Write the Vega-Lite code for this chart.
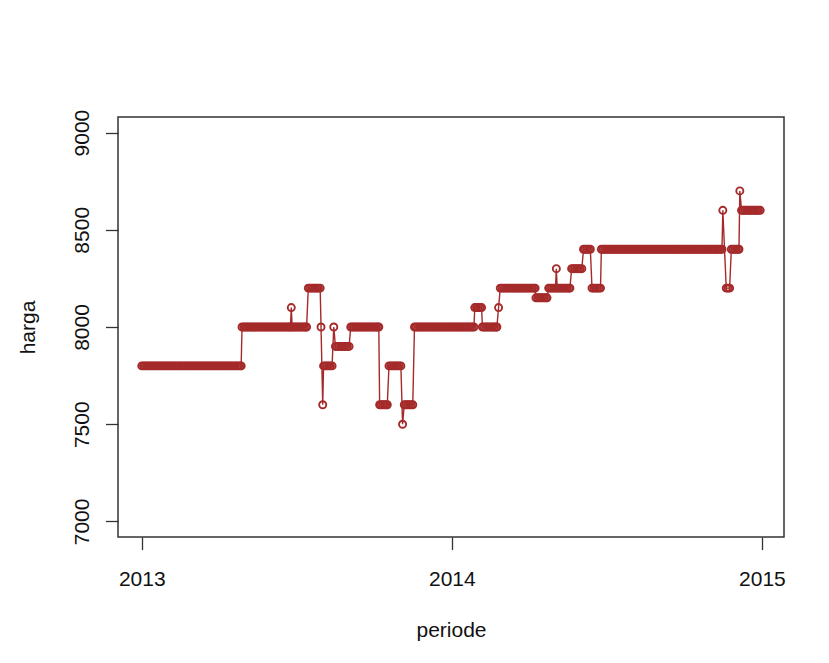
{
"$schema": "https://vega.github.io/schema/vega-lite/v6.json",
"width": 666,
"height": 420,
"autosize": {"type": "none"},
"padding": {"left": 118, "top": 117, "right": 45, "bottom": 126},
"background": "white",
"config": {
  "view": {"stroke": "#333333", "strokeWidth": 1.5},
  "font": "Liberation Sans",
  "axis": {"grid": false, "domain": false, "tickColor": "#333333", "tickWidth": 1.3, "tickSize": 12.5,
    "labelFont": "Liberation Sans", "labelFontSize": 21, "labelColor": "#111111",
    "titleFont": "Liberation Sans", "titleFontSize": 21, "titleFontWeight": "normal", "titleColor": "#111111"}
},
"data": {"values": [
{"t":"2013-01-01","h":7800},{"t":"2013-01-03","h":7800},{"t":"2013-01-05","h":7800},{"t":"2013-01-07","h":7800},{"t":"2013-01-09","h":7800},{"t":"2013-01-11","h":7800},{"t":"2013-01-13","h":7800},{"t":"2013-01-15","h":7800},{"t":"2013-01-17","h":7800},{"t":"2013-01-19","h":7800},{"t":"2013-01-21","h":7800},{"t":"2013-01-23","h":7800},{"t":"2013-01-25","h":7800},{"t":"2013-01-27","h":7800},{"t":"2013-01-29","h":7800},{"t":"2013-01-31","h":7800},
{"t":"2013-02-02","h":7800},{"t":"2013-02-04","h":7800},{"t":"2013-02-06","h":7800},{"t":"2013-02-08","h":7800},{"t":"2013-02-10","h":7800},{"t":"2013-02-12","h":7800},{"t":"2013-02-14","h":7800},{"t":"2013-02-16","h":7800},{"t":"2013-02-18","h":7800},{"t":"2013-02-20","h":7800},{"t":"2013-02-22","h":7800},{"t":"2013-02-24","h":7800},{"t":"2013-02-26","h":7800},{"t":"2013-02-28","h":7800},
{"t":"2013-03-02","h":7800},{"t":"2013-03-04","h":7800},{"t":"2013-03-06","h":7800},{"t":"2013-03-08","h":7800},{"t":"2013-03-10","h":7800},{"t":"2013-03-12","h":7800},{"t":"2013-03-14","h":7800},{"t":"2013-03-16","h":7800},{"t":"2013-03-18","h":7800},{"t":"2013-03-20","h":7800},{"t":"2013-03-22","h":7800},{"t":"2013-03-24","h":7800},{"t":"2013-03-26","h":7800},{"t":"2013-03-28","h":7800},{"t":"2013-03-30","h":7800},
{"t":"2013-04-01","h":7800},{"t":"2013-04-03","h":7800},{"t":"2013-04-05","h":7800},{"t":"2013-04-07","h":7800},{"t":"2013-04-09","h":7800},{"t":"2013-04-11","h":7800},{"t":"2013-04-13","h":7800},{"t":"2013-04-15","h":7800},{"t":"2013-04-17","h":7800},{"t":"2013-04-19","h":7800},{"t":"2013-04-21","h":7800},{"t":"2013-04-23","h":7800},{"t":"2013-04-25","h":7800},{"t":"2013-04-27","h":7800},{"t":"2013-04-28","h":7800},
{"t":"2013-04-29","h":8000},
{"t":"2013-05-01","h":8000},{"t":"2013-05-03","h":8000},{"t":"2013-05-05","h":8000},{"t":"2013-05-07","h":8000},{"t":"2013-05-09","h":8000},{"t":"2013-05-11","h":8000},{"t":"2013-05-13","h":8000},{"t":"2013-05-15","h":8000},{"t":"2013-05-17","h":8000},{"t":"2013-05-19","h":8000},{"t":"2013-05-21","h":8000},{"t":"2013-05-23","h":8000},{"t":"2013-05-25","h":8000},{"t":"2013-05-27","h":8000},{"t":"2013-05-29","h":8000},{"t":"2013-05-31","h":8000},
{"t":"2013-06-02","h":8000},{"t":"2013-06-04","h":8000},{"t":"2013-06-06","h":8000},{"t":"2013-06-08","h":8000},{"t":"2013-06-10","h":8000},{"t":"2013-06-12","h":8000},{"t":"2013-06-14","h":8000},{"t":"2013-06-16","h":8000},{"t":"2013-06-18","h":8000},{"t":"2013-06-20","h":8000},{"t":"2013-06-22","h":8000},{"t":"2013-06-24","h":8000},{"t":"2013-06-25","h":8000},
{"t":"2013-06-26","h":8100},
{"t":"2013-06-27","h":8000},{"t":"2013-06-29","h":8000},{"t":"2013-07-01","h":8000},{"t":"2013-07-03","h":8000},{"t":"2013-07-05","h":8000},{"t":"2013-07-07","h":8000},{"t":"2013-07-09","h":8000},{"t":"2013-07-11","h":8000},{"t":"2013-07-13","h":8000},{"t":"2013-07-14","h":8000},
{"t":"2013-07-16","h":8200},{"t":"2013-07-18","h":8200},{"t":"2013-07-20","h":8200},{"t":"2013-07-22","h":8200},{"t":"2013-07-24","h":8200},{"t":"2013-07-26","h":8200},{"t":"2013-07-28","h":8200},{"t":"2013-07-30","h":8200},
{"t":"2013-07-31","h":8000},
{"t":"2013-08-02","h":7600},
{"t":"2013-08-03","h":7800},{"t":"2013-08-05","h":7800},{"t":"2013-08-07","h":7800},{"t":"2013-08-09","h":7800},{"t":"2013-08-11","h":7800},{"t":"2013-08-13","h":7800},
{"t":"2013-08-15","h":8000},
{"t":"2013-08-17","h":7900},{"t":"2013-08-19","h":7900},{"t":"2013-08-21","h":7900},{"t":"2013-08-23","h":7900},{"t":"2013-08-25","h":7900},{"t":"2013-08-27","h":7900},{"t":"2013-08-29","h":7900},{"t":"2013-08-31","h":7900},{"t":"2013-09-02","h":7900},
{"t":"2013-09-04","h":8000},{"t":"2013-09-06","h":8000},{"t":"2013-09-08","h":8000},{"t":"2013-09-10","h":8000},{"t":"2013-09-12","h":8000},{"t":"2013-09-14","h":8000},{"t":"2013-09-16","h":8000},{"t":"2013-09-18","h":8000},{"t":"2013-09-20","h":8000},{"t":"2013-09-22","h":8000},{"t":"2013-09-24","h":8000},{"t":"2013-09-26","h":8000},{"t":"2013-09-28","h":8000},{"t":"2013-09-30","h":8000},{"t":"2013-10-02","h":8000},{"t":"2013-10-04","h":8000},{"t":"2013-10-06","h":8000},{"t":"2013-10-07","h":8000},
{"t":"2013-10-08","h":7600},{"t":"2013-10-10","h":7600},{"t":"2013-10-12","h":7600},{"t":"2013-10-14","h":7600},{"t":"2013-10-16","h":7600},{"t":"2013-10-17","h":7600},
{"t":"2013-10-19","h":7800},{"t":"2013-10-21","h":7800},{"t":"2013-10-23","h":7800},{"t":"2013-10-25","h":7800},{"t":"2013-10-27","h":7800},{"t":"2013-10-29","h":7800},{"t":"2013-10-31","h":7800},{"t":"2013-11-02","h":7800},
{"t":"2013-11-04","h":7500},
{"t":"2013-11-06","h":7600},{"t":"2013-11-08","h":7600},{"t":"2013-11-10","h":7600},{"t":"2013-11-12","h":7600},{"t":"2013-11-14","h":7600},{"t":"2013-11-16","h":7600},
{"t":"2013-11-18","h":8000},{"t":"2013-11-20","h":8000},{"t":"2013-11-22","h":8000},{"t":"2013-11-24","h":8000},{"t":"2013-11-26","h":8000},{"t":"2013-11-28","h":8000},{"t":"2013-11-30","h":8000},
{"t":"2013-12-02","h":8000},{"t":"2013-12-04","h":8000},{"t":"2013-12-06","h":8000},{"t":"2013-12-08","h":8000},{"t":"2013-12-10","h":8000},{"t":"2013-12-12","h":8000},{"t":"2013-12-14","h":8000},{"t":"2013-12-16","h":8000},{"t":"2013-12-18","h":8000},{"t":"2013-12-20","h":8000},{"t":"2013-12-22","h":8000},{"t":"2013-12-24","h":8000},{"t":"2013-12-26","h":8000},{"t":"2013-12-28","h":8000},{"t":"2013-12-30","h":8000},
{"t":"2014-01-01","h":8000},{"t":"2014-01-03","h":8000},{"t":"2014-01-05","h":8000},{"t":"2014-01-07","h":8000},{"t":"2014-01-09","h":8000},{"t":"2014-01-11","h":8000},{"t":"2014-01-13","h":8000},{"t":"2014-01-15","h":8000},{"t":"2014-01-17","h":8000},{"t":"2014-01-19","h":8000},{"t":"2014-01-21","h":8000},{"t":"2014-01-23","h":8000},{"t":"2014-01-25","h":8000},{"t":"2014-01-27","h":8000},
{"t":"2014-01-28","h":8100},{"t":"2014-01-30","h":8100},{"t":"2014-02-01","h":8100},{"t":"2014-02-03","h":8100},{"t":"2014-02-05","h":8100},
{"t":"2014-02-06","h":8000},{"t":"2014-02-08","h":8000},{"t":"2014-02-10","h":8000},{"t":"2014-02-12","h":8000},{"t":"2014-02-14","h":8000},{"t":"2014-02-16","h":8000},{"t":"2014-02-18","h":8000},{"t":"2014-02-20","h":8000},{"t":"2014-02-22","h":8000},{"t":"2014-02-23","h":8000},
{"t":"2014-02-25","h":8100},
{"t":"2014-02-27","h":8200},{"t":"2014-03-01","h":8200},{"t":"2014-03-03","h":8200},{"t":"2014-03-05","h":8200},{"t":"2014-03-07","h":8200},{"t":"2014-03-09","h":8200},{"t":"2014-03-11","h":8200},{"t":"2014-03-13","h":8200},{"t":"2014-03-15","h":8200},{"t":"2014-03-17","h":8200},{"t":"2014-03-19","h":8200},{"t":"2014-03-21","h":8200},{"t":"2014-03-23","h":8200},{"t":"2014-03-25","h":8200},{"t":"2014-03-27","h":8200},{"t":"2014-03-29","h":8200},{"t":"2014-03-31","h":8200},{"t":"2014-04-02","h":8200},{"t":"2014-04-04","h":8200},{"t":"2014-04-06","h":8200},{"t":"2014-04-08","h":8200},{"t":"2014-04-09","h":8200},
{"t":"2014-04-10","h":8150},{"t":"2014-04-12","h":8150},{"t":"2014-04-14","h":8150},{"t":"2014-04-16","h":8150},{"t":"2014-04-18","h":8150},{"t":"2014-04-20","h":8150},{"t":"2014-04-22","h":8150},{"t":"2014-04-23","h":8150},
{"t":"2014-04-25","h":8200},{"t":"2014-04-27","h":8200},{"t":"2014-04-29","h":8200},{"t":"2014-05-01","h":8200},{"t":"2014-05-03","h":8200},
{"t":"2014-05-04","h":8300},
{"t":"2014-05-05","h":8200},{"t":"2014-05-07","h":8200},{"t":"2014-05-09","h":8200},{"t":"2014-05-11","h":8200},{"t":"2014-05-13","h":8200},{"t":"2014-05-15","h":8200},{"t":"2014-05-17","h":8200},{"t":"2014-05-19","h":8200},{"t":"2014-05-20","h":8200},
{"t":"2014-05-22","h":8300},{"t":"2014-05-24","h":8300},{"t":"2014-05-26","h":8300},{"t":"2014-05-28","h":8300},{"t":"2014-05-30","h":8300},{"t":"2014-06-01","h":8300},{"t":"2014-06-03","h":8300},
{"t":"2014-06-05","h":8400},{"t":"2014-06-07","h":8400},{"t":"2014-06-09","h":8400},{"t":"2014-06-11","h":8400},{"t":"2014-06-13","h":8400},
{"t":"2014-06-15","h":8200},{"t":"2014-06-17","h":8200},{"t":"2014-06-19","h":8200},{"t":"2014-06-21","h":8200},{"t":"2014-06-23","h":8200},{"t":"2014-06-25","h":8200},
{"t":"2014-06-26","h":8400},{"t":"2014-06-28","h":8400},{"t":"2014-06-30","h":8400},
{"t":"2014-07-02","h":8400},{"t":"2014-07-04","h":8400},{"t":"2014-07-06","h":8400},{"t":"2014-07-08","h":8400},{"t":"2014-07-10","h":8400},{"t":"2014-07-12","h":8400},{"t":"2014-07-14","h":8400},{"t":"2014-07-16","h":8400},{"t":"2014-07-18","h":8400},{"t":"2014-07-20","h":8400},{"t":"2014-07-22","h":8400},{"t":"2014-07-24","h":8400},{"t":"2014-07-26","h":8400},{"t":"2014-07-28","h":8400},{"t":"2014-07-30","h":8400},
{"t":"2014-08-01","h":8400},{"t":"2014-08-03","h":8400},{"t":"2014-08-05","h":8400},{"t":"2014-08-07","h":8400},{"t":"2014-08-09","h":8400},{"t":"2014-08-11","h":8400},{"t":"2014-08-13","h":8400},{"t":"2014-08-15","h":8400},{"t":"2014-08-17","h":8400},{"t":"2014-08-19","h":8400},{"t":"2014-08-21","h":8400},{"t":"2014-08-23","h":8400},{"t":"2014-08-25","h":8400},{"t":"2014-08-27","h":8400},{"t":"2014-08-29","h":8400},{"t":"2014-08-31","h":8400},
{"t":"2014-09-02","h":8400},{"t":"2014-09-04","h":8400},{"t":"2014-09-06","h":8400},{"t":"2014-09-08","h":8400},{"t":"2014-09-10","h":8400},{"t":"2014-09-12","h":8400},{"t":"2014-09-14","h":8400},{"t":"2014-09-16","h":8400},{"t":"2014-09-18","h":8400},{"t":"2014-09-20","h":8400},{"t":"2014-09-22","h":8400},{"t":"2014-09-24","h":8400},{"t":"2014-09-26","h":8400},{"t":"2014-09-28","h":8400},{"t":"2014-09-30","h":8400},
{"t":"2014-10-02","h":8400},{"t":"2014-10-04","h":8400},{"t":"2014-10-06","h":8400},{"t":"2014-10-08","h":8400},{"t":"2014-10-10","h":8400},{"t":"2014-10-12","h":8400},{"t":"2014-10-14","h":8400},{"t":"2014-10-16","h":8400},{"t":"2014-10-18","h":8400},{"t":"2014-10-20","h":8400},{"t":"2014-10-22","h":8400},{"t":"2014-10-24","h":8400},{"t":"2014-10-26","h":8400},{"t":"2014-10-28","h":8400},{"t":"2014-10-30","h":8400},
{"t":"2014-11-01","h":8400},{"t":"2014-11-03","h":8400},{"t":"2014-11-05","h":8400},{"t":"2014-11-07","h":8400},{"t":"2014-11-09","h":8400},{"t":"2014-11-11","h":8400},{"t":"2014-11-13","h":8400},{"t":"2014-11-15","h":8400},
{"t":"2014-11-16","h":8600},
{"t":"2014-11-20","h":8200},{"t":"2014-11-22","h":8200},{"t":"2014-11-24","h":8200},
{"t":"2014-11-26","h":8400},{"t":"2014-11-28","h":8400},{"t":"2014-11-30","h":8400},{"t":"2014-12-02","h":8400},{"t":"2014-12-04","h":8400},{"t":"2014-12-05","h":8400},
{"t":"2014-12-06","h":8700},
{"t":"2014-12-08","h":8600},{"t":"2014-12-10","h":8600},{"t":"2014-12-12","h":8600},{"t":"2014-12-14","h":8600},{"t":"2014-12-16","h":8600},{"t":"2014-12-18","h":8600},{"t":"2014-12-20","h":8600},{"t":"2014-12-22","h":8600},{"t":"2014-12-24","h":8600},{"t":"2014-12-26","h":8600},{"t":"2014-12-28","h":8600},{"t":"2014-12-30","h":8600}
]},
"encoding": {
  "x": {"field": "t", "type": "temporal",
    "scale": {"type": "utc", "nice": false, "domain": [{"year": 2012, "month": 12, "date": 4, "utc": true}, {"year": 2015, "month": 1, "date": 27, "utc": true}]},
    "axis": {"values": [{"year": 2013, "month": 1, "date": 1, "utc": true}, {"year": 2014, "month": 1, "date": 1, "utc": true}, {"year": 2015, "month": 1, "date": 1, "utc": true}],
      "format": "%Y", "labelPadding": 19, "labelFlush": false, "labelOverlap": false,
      "title": "periode", "titleX": 333, "titleY": 99, "titleAlign": "center", "titleBaseline": "alphabetic"}},
  "y": {"field": "h", "type": "quantitative",
    "scale": {"domain": [6920, 9080], "nice": false, "zero": false},
    "axis": {"values": [7000, 7500, 8000, 8500, 9000], "format": "d", "labelAngle": -90, "labelAlign": "center", "labelBaseline": "bottom", "labelPadding": 13.5, "labelOverlap": false,
      "title": "harga", "titleAngle": -90, "titleX": -84, "titleY": 210, "titleAlign": "center", "titleBaseline": "alphabetic"}}
},
"layer": [
  {"mark": {"type": "line", "color": "#A52A2A", "strokeWidth": 1.4, "clip": true}},
  {"mark": {"type": "point", "shape": "circle", "filled": false, "stroke": "#A52A2A", "strokeWidth": 1.9, "size": 50, "opacity": 1, "clip": true}}
]
}
